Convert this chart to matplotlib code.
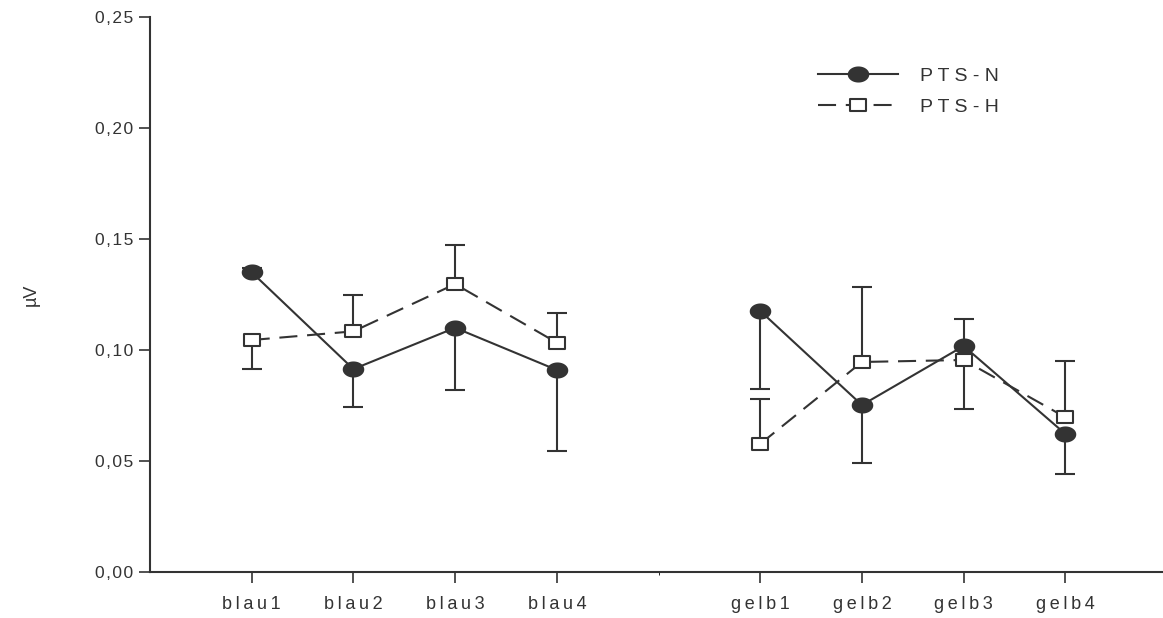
import numpy as np
import matplotlib
matplotlib.use('Agg')
import matplotlib.pyplot as plt
from matplotlib.path import Path

plt.rcParams['font.family'] = ['Liberation Sans', 'DejaVu Sans']
plt.rcParams['lines.scale_dashes'] = False

# conditions and their slots on the x axis (gap between the two colour blocks)
conditions = ['blau1', 'blau2', 'blau3', 'blau4', 'gelb1', 'gelb2', 'gelb3', 'gelb4']
xpos = np.array([1, 2, 3, 4, 6, 7, 8, 9])

# PTS-N means and one-sided error bars
n_mean = np.array([0.135, 0.0914, 0.110, 0.091, 0.1176, 0.0752, 0.1018, 0.0622])
n_err_lo = np.array([0.0, 0.0171, 0.0281, 0.0365, 0.035, 0.026, 0.0, 0.0179])
n_err_hi = np.array([0.002, 0.0, 0.0, 0.0, 0.0, 0.0, 0.0122, 0.0])

# PTS-H means and one-sided error bars
h_mean = np.array([0.1045, 0.1084, 0.1297, 0.1033, 0.0577, 0.0946, 0.0955, 0.0697])
h_err_lo = np.array([0.013, 0.0, 0.0, 0.0, 0.0, 0.0, 0.0219, 0.0])
h_err_hi = np.array([0.0, 0.0166, 0.0176, 0.0135, 0.0201, 0.0336, 0.0, 0.0255])

yticks = [0.0, 0.05, 0.10, 0.15, 0.20, 0.25]

ink = '#333333'


def spaced(s, sep='\u2009'):
    # loose letter spacing
    return sep.join(s)


# slightly flattened markers
t = np.linspace(0, 2 * np.pi, 60)
ellipse = Path(np.column_stack([np.cos(t), 0.72 * np.sin(t)]), closed=True)
rect = Path([(-1, -0.75), (1, -0.75), (1, 0.75), (-1, 0.75), (-1, -0.75)], closed=True)

fig = plt.figure(figsize=(11.63, 6.18), dpi=100)
ax = fig.add_axes([150 / 1163, 46 / 618, 1013 / 1163, 555 / 618])

blocks = [slice(0, 4), slice(4, 8)]

for mean, lo, hi, marker, ms, face, dash, label in [
    (n_mean, n_err_lo, n_err_hi, ellipse, 14, ink, None, 'PTS-N'),
    (h_mean, h_err_lo, h_err_hi, rect, 11.5, 'white', (0, (13, 7)), 'PTS-H'),
]:
    # error stems and caps
    ax.vlines(xpos, mean - lo, mean + hi, color=ink, lw=1.5, zorder=2)
    up = hi > 0
    dn = lo > 0
    ax.plot(xpos[up], (mean + hi)[up], ls='none', marker='_', ms=15,
            mew=1.5, color=ink, zorder=2)
    ax.plot(xpos[dn], (mean - lo)[dn], ls='none', marker='_', ms=15,
            mew=1.5, color=ink, zorder=2)
    for i, blk in enumerate(blocks):
        ax.plot(xpos[blk], mean[blk], color=ink, lw=1.5,
                ls=dash if dash else '-',
                marker=marker, ms=ms, mfc=face, mec=ink, mew=1.5,
                zorder=3, label=label if i == 0 else None)

ax.set_xlim(0, 9.96)
ax.set_ylim(0, 0.25)
ax.set_xticks(xpos)
ax.set_xticklabels([spaced(c) for c in conditions], fontsize=13)
ax.set_xticks([5], minor=True)
ax.set_yticks(yticks)
ax.set_yticklabels([spaced(f'{v:.2f}'.replace('.', ','), '\u200a') for v in yticks],
                   fontsize=12.5)

ax.tick_params(axis='both', colors=ink, labelcolor=ink, width=1.2)
ax.tick_params(axis='x', which='major', length=8, pad=9)
ax.tick_params(axis='x', which='minor', length=2)
ax.tick_params(axis='y', length=8, pad=4)

for side in ['top', 'right']:
    ax.spines[side].set_visible(False)
for side in ['left', 'bottom']:
    ax.spines[side].set_color(ink)
    ax.spines[side].set_linewidth(1.5)

ax.set_ylabel('µV', fontsize=13, color=ink, labelpad=40)

leg = ax.legend(loc='upper left', bbox_to_anchor=(818 / 1163, 1 - 67 / 618),
                bbox_transform=fig.transFigure, frameon=False, numpoints=1,
                fontsize=14, handlelength=4.1, handletextpad=1.15,
                labelspacing=0.72, borderpad=0, borderaxespad=0)
for txt in leg.get_texts():
    txt.set_text(spaced(txt.get_text(), ' '))
    txt.set_color(ink)

fig.savefig('out.png', dpi=100)
